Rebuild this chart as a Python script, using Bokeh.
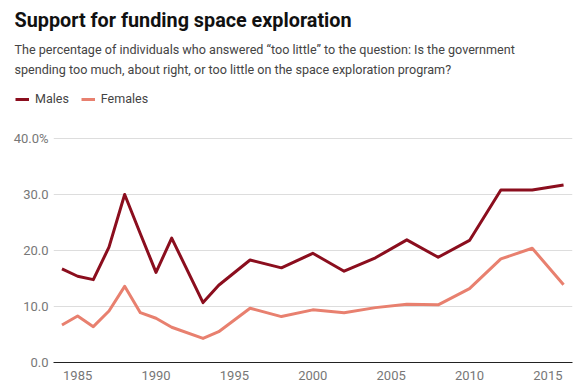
from bokeh.plotting import figure
from bokeh.layouts import column
from bokeh.models import (Label, Legend, LegendItem, FixedTicker, CustomJSTickFormatter,
                          Range1d)
from bokeh.embed import file_html
from bokeh.resources import INLINE

years = [1984, 1985, 1986, 1987, 1988, 1989, 1990, 1991, 1993, 1994, 1996, 1998,
         2000, 2002, 2004, 2006, 2008, 2010, 2012, 2014, 2016]
males = [16.7, 15.4, 14.8, 20.6, 30.0, 23.0, 16.1, 22.2, 10.7, 13.8, 18.3, 16.9,
         19.5, 16.3, 18.7, 21.9, 18.8, 21.8, 30.8, 30.8, 31.7]
females = [6.7, 8.3, 6.4, 9.2, 13.6, 8.9, 7.9, 6.3, 4.3, 5.5, 9.7, 8.2,
           9.4, 8.9, 9.8, 10.4, 10.3, 13.2, 18.5, 20.4, 13.9]
series_names = ["Males", "Females"]
x_ticks = [1985, 1990, 1995, 2000, 2005, 2010, 2015]
y_ticks = [0, 10, 20, 30, 40]

title_text = "Support for funding space exploration"
subtitle_1 = "The percentage of individuals who answered \u201ctoo little\u201d to the question: Is the government"
subtitle_2 = "spending too much, about right, or too little on the space exploration program?"

FONT = "Roboto"
MALE_C = "#8b0e1e"
FEMALE_C = "#e8806f"
W = 576
HEAD_H = 130

# ---------- header (title, subtitle, legend) ----------
head = figure(width=W, height=HEAD_H, output_backend="svg", toolbar_location=None,
              x_range=Range1d(0, W), y_range=Range1d(HEAD_H, 0),
              x_axis_location=None, y_axis_location=None,
              min_border_left=0, min_border_right=0, min_border_top=0, min_border_bottom=0)
head.frame_align = False
head.grid.visible = False
head.outline_line_color = None
head.background_fill_color = "white"
head.border_fill_color = "white"

head.add_layout(Label(x=14, y=20, text=title_text, text_font=FONT, text_font_size="19.8px",
                      text_font_style="bold", text_color="#111111", text_baseline="middle"))
head.add_layout(Label(x=14, y=48.5, text=subtitle_1, text_font=FONT, text_font_size="12.6px",
                      text_color="#444444", text_baseline="middle"))
head.add_layout(Label(x=14, y=69, text=subtitle_2, text_font=FONT, text_font_size="12.6px",
                      text_color="#444444", text_baseline="middle"))

# legend proxies, drawn outside the visible header range
lm = head.line([-100, -90], [-100, -100], line_color=MALE_C, line_width=3)
lf = head.line([-100, -90], [-100, -100], line_color=FEMALE_C, line_width=3)
legend = Legend(items=[LegendItem(label=series_names[0], renderers=[lm]),
                       LegendItem(label=series_names[1], renderers=[lf])],
                orientation="horizontal", location=(15, 24),
                label_text_font=FONT, label_text_font_size="12.5px",
                label_text_color="#444444", glyph_width=14, glyph_height=12,
                label_standoff=6, spacing=12, padding=0, margin=0,
                border_line_color=None, background_fill_alpha=0)
head.add_layout(legend, "center")

# ---------- main chart ----------
p = figure(width=W, height=252, output_backend="svg", toolbar_location=None,
           x_range=Range1d(1983.46, 2016.57), y_range=Range1d(0, 41.43),
           min_border_left=53, min_border_right=4, min_border_bottom=0, min_border_top=0)
p.frame_align = False
p.outline_line_color = None
p.background_fill_color = "white"
p.border_fill_color = "white"

p.line(years, males, line_color=MALE_C, line_width=3, line_join="round")
p.line(years, females, line_color=FEMALE_C, line_width=3, line_join="round")

p.xaxis.ticker = FixedTicker(ticks=x_ticks)
p.xaxis.axis_line_color = "#222222"
p.xaxis.axis_line_width = 1
p.xaxis.major_tick_line_color = None
p.xaxis.major_tick_out = 0
p.xaxis.major_tick_in = 0
p.xaxis.minor_tick_line_color = None
p.xaxis.major_label_text_font = FONT
p.xaxis.major_label_text_font_size = "13px"
p.xaxis.major_label_text_color = "#777777"
p.xaxis.major_label_standoff = 8

p.yaxis.ticker = FixedTicker(ticks=y_ticks)
p.yaxis.formatter = CustomJSTickFormatter(code="return tick == 40 ? tick.toFixed(1) + '%' : tick.toFixed(1);")
p.yaxis.axis_line_color = None
p.yaxis.major_tick_line_color = None
p.yaxis.major_tick_out = 0
p.yaxis.major_tick_in = 0
p.yaxis.minor_tick_line_color = None
p.yaxis.major_label_text_font = FONT
p.yaxis.major_label_text_font_size = "13px"
p.yaxis.major_label_text_color = "#777777"
p.yaxis.major_label_standoff = 5

p.xgrid.grid_line_color = None
p.ygrid.ticker = FixedTicker(ticks=y_ticks)
p.ygrid.grid_line_color = "#dddddd"
p.ygrid.grid_line_width = 1

layout = column(head, p, spacing=0)
open("out.html", "w").write(file_html(layout, INLINE))
